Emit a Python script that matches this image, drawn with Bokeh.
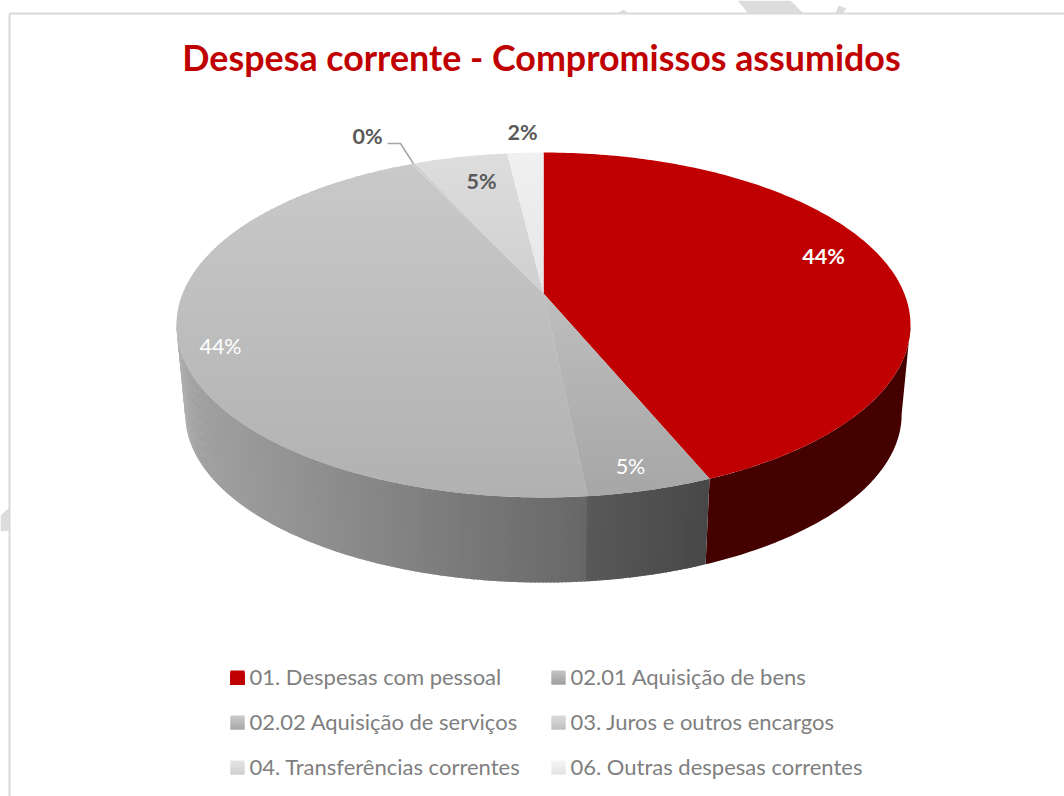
import math
from bokeh.plotting import figure
from bokeh.models import Range1d
from bokeh.core.properties import value
from bokeh.embed import file_html
from bokeh.resources import INLINE

TITLE = "Despesa corrente - Compromissos assumidos"
categories = ["01. Despesas com pessoal", "02.01 Aquisição de bens", "02.02 Aquisição de serviços",
              "03. Juros e outros encargos", "04. Transferências correntes", "06. Outras despesas correntes"]
shares = [43.75, 4.65, 44.6, 0.2, 4.9, 1.9]
share_labels = ["44%", "5%", "44%", "0%", "5%", "2%"]

# styles / layout
TOP_COL = [("#c00000", "#c00000"), ("#bebebe", "#a6a6a6"), ("#c9c9c9", "#b1b1b1"),
           ("#d0d0d0", "#d0d0d0"), ("#dddddd", "#cfcfcf"), ("#f0f0f0", "#e6e6e6")]
LABEL_XY = [(823, 255.5), (630, 465.5), (220, 345.5), (367, 135.5), (481, 180.5), (522, 131.5)]
LABEL_COL = ["#ffffff", "#ffffff", "#ffffff", "#595959", "#595959", "#595959"]
LABEL_BOLD = [True, False, False, True, True, True]
LEG_X = [230, 551]
LEG_Y = [675.5, 720.5, 765.5]
LEG_COL = [("#c00000", "#c00000"), ("#a0a0a0", "#c4c4c4"), ("#a8a8a8", "#cacaca"),
           ("#c0c0c0", "#dadada"), ("#d0d0d0", "#e4e4e4"), ("#e4e4e4", "#f4f4f4")]

CX, AY, AX_, BY_, K = 543.0, 293.0, 360.8, 166.7, 0.1826
SCALE_BOT, BOT_APEX = 0.976, 383.0


def hexmix(a, b, t):
    ca = [int(a[i:i + 2], 16) for i in (1, 3, 5)]
    cb = [int(b[i:i + 2], 16) for i in (1, 3, 5)]
    return "#%02x%02x%02x" % tuple(round(x + (y - x) * t) for x, y in zip(ca, cb))


def project(frac, r=1.0, bottom=False):
    a = 2 * math.pi * frac
    x, y = r * math.sin(a), -r * math.cos(a)
    w = 1 - K * y
    px, py = AX_ * x / w, BY_ * y / w
    if bottom:
        return CX + SCALE_BOT * px, BOT_APEX + SCALE_BOT * py
    return CX + px, AY + py


def clip(poly, y0, y1):
    def half(pts, keep, cross):
        out = []
        for i, p in enumerate(pts):
            q = pts[(i + 1) % len(pts)]
            if keep(p):
                out.append(p)
            if keep(p) != keep(q):
                t = (cross - p[1]) / (q[1] - p[1])
                out.append((p[0] + t * (q[0] - p[0]), cross))
        return out
    r = half(poly, lambda p: p[1] >= y0, y0)
    if r:
        r = half(r, lambda p: p[1] <= y1, y1)
    return r


p = figure(width=1064, height=796, output_backend="svg", toolbar_location=None,
           x_range=Range1d(0, 1064), y_range=Range1d(796, 0), min_border=0,
           x_axis_location=None, y_axis_location=None, outline_line_color=None,
           background_fill_color="white", border_fill_color="white")
p.xgrid.visible = False
p.ygrid.visible = False

# page background shards and chart frame
shards_x = [[737, 790, 803, 748], [617, 623, 628], [838, 846, 842, 835], [0, 9, 9, 0]]
shards_y = [[0, 0, 13, 13], [13, 9, 13], [5, 8, 13, 13], [515, 507, 530, 531]]
p.patches(shards_x, shards_y, fill_color="#dcdcdc", line_color=None)
p.line([9, 1064], [13, 13], line_color="#d9d9d9", line_width=2)
p.line([9, 9], [13, 796], line_color="#d9d9d9", line_width=2)

total = sum(shares)
bounds = [0.0]
for s in shares:
    bounds.append(bounds[-1] + s / total)

# side wall: from the widest point on the right to the widest point on the left
WALL_FROM, WALL_TO = 0.279, 0.721
fr = [WALL_FROM + (bounds[1] - WALL_FROM) * j / 80 for j in range(81)]
tops = [project(f) for f in fr]
bots = [project(f, bottom=True) for f in reversed(fr)]
p.patch([q[0] for q in tops + bots], [q[1] for q in tops + bots], fill_color="#450000", line_color=None)

xs, ys, cols = [], [], []
STEPS = 200
for i in range(STEPS):
    f0 = bounds[1] + (WALL_TO - bounds[1]) * i / STEPS
    f1 = min(bounds[1] + (WALL_TO - bounds[1]) * (i + 1.6) / STEPS, WALL_TO)
    t0, t1 = project(f0), project(f1)
    b0, b1 = project(f0, bottom=True), project(f1, bottom=True)
    xs.append([t0[0], t1[0], b1[0], b0[0]])
    ys.append([t0[1], t1[1], b1[1], b0[1]])
    if f0 < bounds[2]:
        cols.append(hexmix("#484848", "#5a5a5a", (709 - t0[0]) / 126))
    else:
        cols.append(hexmix("#686868", "#a4a4a4", (583 - t0[0]) / 406))
p.patches(xs, ys, fill_color=cols, line_color=None)

# top face: every wedge cut into horizontal bands for its vertical gradient
xs, ys, cols = [], [], []
for i in range(len(shares)):
    n = max(3, int(shares[i] * 4))
    poly = [project(0, 0)] + [project(bounds[i] + (bounds[i + 1] - bounds[i]) * j / n) for j in range(n + 1)]
    lo, hi = min(q[1] for q in poly), max(q[1] for q in poly)
    if TOP_COL[i][0] == TOP_COL[i][1]:
        xs.append([q[0] for q in poly])
        ys.append([q[1] for q in poly])
        cols.append(TOP_COL[i][0])
        continue
    y = lo
    while y < hi:
        band = clip(poly, y, y + 4.5)
        if len(band) >= 3:
            xs.append([q[0] for q in band])
            ys.append([q[1] for q in band])
            cols.append(hexmix(TOP_COL[i][0], TOP_COL[i][1], (y - lo) / max(hi - lo, 1)))
        y += 3
p.patches(xs, ys, fill_color=cols, line_color=None)

# leader line for the 0% label
lead = project((bounds[3] + bounds[4]) / 2)
p.line([387, 400, lead[0]], [143, 143, lead[1]], line_color="#a6a6a6", line_width=1.5)

# data labels
for (lx, ly), lab, col, bold in zip(LABEL_XY, share_labels, LABEL_COL, LABEL_BOLD):
    p.text([lx], [ly], text=[lab], text_color=col, text_align="center", text_baseline="middle",
           text_font=value("Lato"), text_font_size="21.5px", text_font_style="bold" if bold else "normal")

# title
p.text([541], [57], text=[TITLE], text_color="#c00000", text_align="center", text_baseline="middle",
       text_font=value("Lato"), text_font_size="35.8px", text_font_style="bold")

# legend
for i, name in enumerate(categories):
    lx, ly = LEG_X[i % 2], LEG_Y[i // 2]
    a, b = LEG_COL[i]
    for k in range(14):
        p.quad(left=[lx], right=[lx + 14], top=[ly - 5.5 + k], bottom=[ly - 5.5 + (14 if a == b else min(k + 2, 14))],
               fill_color=hexmix(a, b, 1 - k / 13), line_color=None)
    p.text([lx + 19], [ly], text=[name], text_color="#7f7f7f", text_align="left", text_baseline="middle",
           text_font=value("Lato"), text_font_size="22px")

open("out.html", "w").write(file_html(p, INLINE))
